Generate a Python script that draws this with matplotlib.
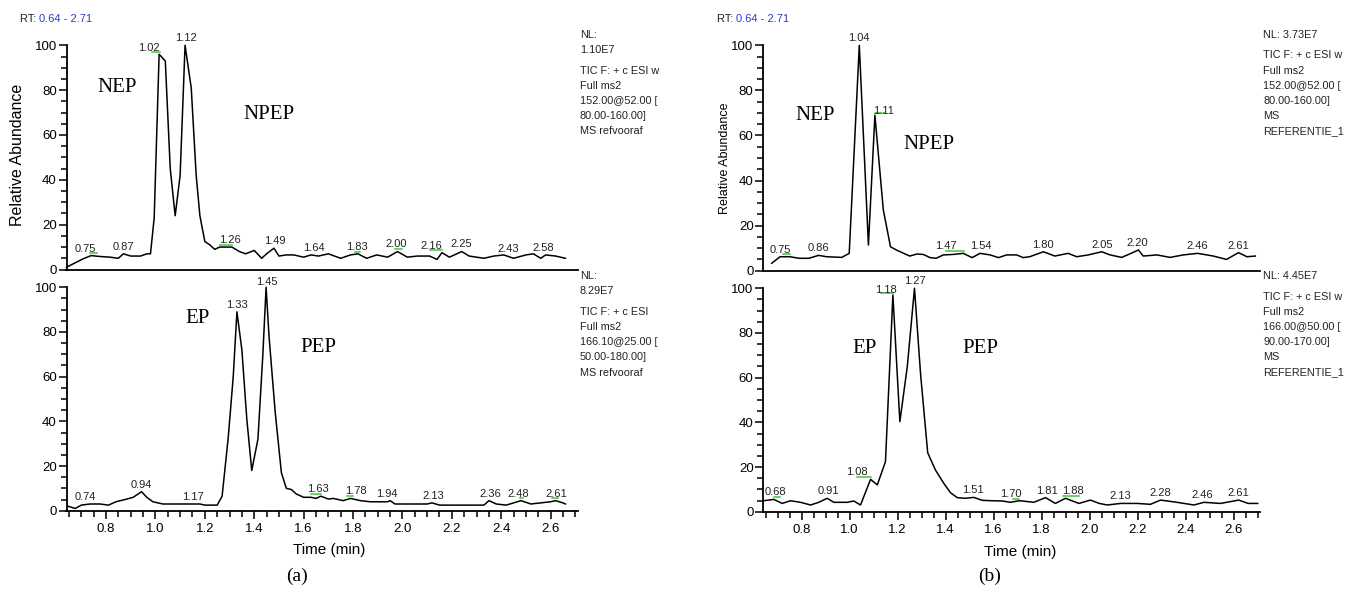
import numpy as np
import matplotlib.pyplot as plt
from matplotlib.ticker import MultipleLocator

plt.rcParams['font.family'] = ['Liberation Sans', 'DejaVu Sans']

# ---- (a) top trace: m/z 152 (NEP / NPEP), refvooraf
a1_t = [0.64, 0.67, 0.71, 0.74, 0.776, 0.816, 0.85, 0.87, 0.90, 0.94, 0.965, 0.98, 0.995,
        1.015, 1.04, 1.06, 1.08, 1.10, 1.12, 1.145, 1.165, 1.18, 1.20, 1.22, 1.24, 1.26,
        1.31, 1.34, 1.365, 1.40, 1.43, 1.45, 1.48, 1.50, 1.53, 1.56, 1.60, 1.63, 1.66,
        1.70, 1.75, 1.79, 1.82, 1.855, 1.896, 1.94, 1.98, 2.02, 2.06, 2.11, 2.14, 2.16,
        2.19, 2.24, 2.27, 2.33, 2.37, 2.41, 2.45, 2.50, 2.53, 2.56, 2.58, 2.62, 2.66]
a1_v = [1, 2.7, 4.9, 6.2, 5.8, 5.5, 5, 7, 6, 6, 7, 7, 23,
        96, 93, 45, 24, 42, 100, 81, 42, 24, 12.5, 11, 9, 10,
        10, 8, 7, 8.5, 5, 7, 9.5, 6, 6.5, 6.5, 5.5, 6.5, 6,
        7, 5, 6.5, 7, 5, 6.5, 5.5, 8, 5.5, 6, 6, 4.5, 7.5,
        5.5, 8, 6, 5, 6, 6.5, 5, 6.5, 7, 5, 6.5, 6, 5]
a1_labels = [0.75, 0.87, 1.02, 1.12, 1.26, 1.49, 1.64, 1.83, 2.00, 2.16, 2.25, 2.43, 2.58]
a1_label_x = [0.715, 0.87, 0.975, 1.124, 1.30, 1.485, 1.64, 1.816, 1.975, 2.115, 2.24, 2.43, 2.57]
a1_green = [(0.735, 0.765), (0.985, 1.02), (1.26, 1.31), (1.81, 1.83), (1.97, 2.00), (2.11, 2.16)]
a1_info = ["NL:", "1.10E7", "TIC F: + c ESI w", "Full ms2", "152.00@52.00 [", "80.00-160.00]", "MS refvooraf"]

# ---- (a) bottom trace: m/z 166 (EP / PEP), refvooraf
a2_t = [0.646, 0.675, 0.70, 0.735, 0.776, 0.81, 0.84, 0.877, 0.91, 0.944, 0.965, 0.99, 1.03,
        1.18, 1.20, 1.25, 1.27, 1.295, 1.315, 1.33, 1.35, 1.37, 1.39, 1.415, 1.435, 1.448,
        1.46, 1.485, 1.51, 1.53, 1.55, 1.57, 1.60, 1.63, 1.65, 1.67, 1.70, 1.72, 1.76,
        1.79, 1.83, 1.87, 1.94, 1.95, 1.97, 2.03, 2.10, 2.12, 2.15, 2.33, 2.35, 2.38,
        2.42, 2.45, 2.48, 2.52, 2.56, 2.60, 2.62, 2.65, 2.66]
a2_v = [2, 1, 2.5, 3, 3, 2.5, 4, 5, 6, 8.5, 6, 4, 3,
        3, 2.5, 2.5, 6.5, 33, 60, 89, 72, 41, 18, 32, 70, 100,
        78, 44, 17, 10, 9.5, 7.5, 6, 6, 5.5, 6.5, 5.2, 5.5, 4.5,
        5.5, 4.5, 4, 4, 4.5, 3, 3, 3, 3.5, 2.5, 2.5, 4.5, 3,
        2.5, 3.5, 4.5, 3, 3.5, 4, 4.5, 3.5, 3]
a2_labels = [0.74, 0.94, 1.17, 1.33, 1.45, 1.63, 1.78, 1.94, 2.13, 2.36, 2.48, 2.61]
a2_label_x = [0.715, 0.944, 1.152, 1.33, 1.45, 1.66, 1.81, 1.936, 2.124, 2.355, 2.47, 2.625]
a2_green = [(1.63, 1.67), (1.775, 1.80), (2.475, 2.49), (2.605, 2.63)]
a2_info = ["NL:", "8.29E7", "TIC F: + c ESI", "Full ms2", "166.10@25.00 [", "50.00-180.00]", "MS refvooraf"]

# ---- (b) top trace: m/z 152 (NEP / NPEP), REFERENTIE_1
b1_t = [0.675, 0.71, 0.75, 0.79, 0.83, 0.87, 0.904, 0.967, 0.998, 1.04, 1.078, 1.105, 1.14,
        1.17, 1.20, 1.25, 1.28, 1.307, 1.335, 1.36, 1.39, 1.43, 1.473, 1.51, 1.543, 1.585,
        1.62, 1.654, 1.696, 1.723, 1.75, 1.807, 1.855, 1.91, 1.946, 1.994, 2.05, 2.085,
        2.133, 2.168, 2.203, 2.223, 2.28, 2.335, 2.39, 2.45, 2.515, 2.57, 2.62, 2.655, 2.69]
b1_v = [3.3, 6.2, 6.2, 5.5, 5.5, 6.8, 6.2, 5.9, 7.7, 100, 11.4, 69, 27,
        10.6, 8.9, 6.5, 7.4, 7.2, 5.8, 5.5, 7, 7.2, 7.7, 5.8, 7.7, 7,
        5.8, 7, 7, 5.8, 6.2, 8.4, 6.5, 7.7, 6.2, 7, 8.4, 7,
        5.9, 7.5, 9.2, 6.5, 7, 5.9, 7, 7.7, 6.5, 5, 8, 6.2, 6.5]
b1_labels = [0.75, 0.86, 1.04, 1.11, 1.47, 1.54, 1.80, 2.05, 2.20, 2.46, 2.61]
b1_label_x = [0.71, 0.87, 1.04, 1.14, 1.40, 1.545, 1.806, 2.05, 2.20, 2.45, 2.62]
b1_green = [(0.72, 0.75), (1.105, 1.147), (1.40, 1.475)]
b1_info = ["NL: 3.73E7", "TIC F: + c ESI w", "Full ms2", "152.00@52.00 [", "80.00-160.00]", "MS", "REFERENTIE_1"]

# ---- (b) bottom trace: m/z 166 (EP / PEP), REFERENTIE_1
b2_t = [0.64, 0.684, 0.719, 0.753, 0.795, 0.837, 0.871, 0.906, 0.934, 0.99, 1.017, 1.045,
        1.087, 1.115, 1.149, 1.18, 1.209, 1.24, 1.27, 1.295, 1.325, 1.357, 1.392, 1.42,
        1.448, 1.482, 1.517, 1.552, 1.594, 1.635, 1.67, 1.705, 1.719, 1.767, 1.816, 1.857,
        1.899, 1.955, 2.003, 2.04, 2.073, 2.128, 2.198, 2.253, 2.295, 2.364, 2.434, 2.476,
        2.545, 2.621, 2.66, 2.70]
b2_v = [4.9, 5.5, 3.7, 4.9, 4.2, 3, 4.2, 6, 4.2, 4.2, 4.8, 3,
        14.5, 12, 22.4, 97, 40.3, 65, 100, 62, 26.4, 18.7, 12.7, 8.5,
        6.3, 6, 6.4, 5.1, 4.9, 4.8, 4.2, 4.9, 4.8, 4.2, 6.3, 3.7,
        6, 3.7, 5.2, 3.7, 3, 3.7, 3.7, 3.3, 5.2, 4.2, 3, 4.2,
        3.7, 5.2, 3.7, 3.7]
b2_labels = [0.68, 0.91, 1.08, 1.18, 1.27, 1.51, 1.70, 1.81, 1.88, 2.13, 2.28, 2.46, 2.61]
b2_label_x = [0.69, 0.91, 1.03, 1.15, 1.27, 1.515, 1.67, 1.82, 1.93, 2.128, 2.295, 2.47, 2.62]
b2_green = [(0.685, 0.71), (1.03, 1.09), (1.13, 1.18), (1.68, 1.705), (1.89, 1.955)]
b2_info = ["NL: 4.45E7", "TIC F: + c ESI w", "Full ms2", "166.00@50.00 [", "90.00-170.00]", "MS", "REFERENTIE_1"]

W, H = 1357, 594
fig = plt.figure(figsize=(W / 100, H / 100), dpi=100)


def rect(x0, x1, ytop, ybot):
    return [x0 / W, 1 - ybot / H, (x1 - x0) / W, (ybot - ytop) / H]


def local_max(t, v, lo, hi):
    xs = np.linspace(lo, hi, 25)
    return np.interp(xs, t, v).max()


def panel(r, t, v, labels, label_x, greens, bottom):
    ax = fig.add_axes(r)
    ax.plot(t, v, color='black', lw=1.1, clip_on=False)
    for lab, lx in zip(labels, label_x):
        y = local_max(t, v, min(lab, lx) - 0.01, max(lab, lx) + 0.01)
        ax.annotate(f"{lab:.2f}", (lx, y), xytext=(0, 1.5), textcoords='offset points',
                    ha='center', va='bottom', fontsize=8, color='#222222', annotation_clip=False)
    for g0, g1 in greens:
        y = local_max(t, v, g0, g1) + 1
        ax.plot([g0, g1], [y, y], color='#3cc83c', lw=1.1, clip_on=False)
    ax.set_xlim(0.64, 2.71)
    ax.set_ylim(0, 100)
    for s in ['top', 'right']:
        ax.spines[s].set_visible(False)
    for s in ['left', 'bottom']:
        ax.spines[s].set_linewidth(1.3)
    ax.yaxis.set_major_locator(MultipleLocator(20))
    ax.yaxis.set_minor_locator(MultipleLocator(5))
    ax.tick_params(axis='y', which='major', length=6, width=1.1, pad=1, labelsize=9.5)
    ax.tick_params(axis='y', which='minor', length=4, width=1.1)
    if bottom:
        ax.xaxis.set_major_locator(MultipleLocator(0.2))
        ax.xaxis.set_minor_locator(MultipleLocator(0.05))
        ax.tick_params(axis='x', which='major', length=6, width=1.1, pad=3, labelsize=9.5)
        ax.tick_params(axis='x', which='minor', length=4, width=1.1)
    else:
        ax.set_xticks([])
    return ax


def info(x, ytop, lines, n_first):
    y = ytop
    for i, s in enumerate(lines):
        fig.text(x / W, 1 - y / H, s, fontsize=7.8, va='center', ha='left', color='#222222')
        y += 20.5 if i == n_first - 1 else 15.2


serif = dict(fontsize=15, family='Liberation Serif', ha='center', va='center')

# (a)
a_top = panel(rect(66.5, 577.8, 45.3, 269.5), a1_t, a1_v, a1_labels, a1_label_x, a1_green, False)
a_bot = panel(rect(66.5, 577.8, 287.3, 510.7), a2_t, a2_v, a2_labels, a2_label_x, a2_green, True)
a_top.text(0.845, 81, "NEP", **serif)
a_top.text(1.46, 69, "NPEP", **serif)
a_bot.text(1.17, 86, "EP", **serif)
a_bot.text(1.66, 73, "PEP", **serif)
info(580, 35, a1_info, 2)
info(580, 276, a2_info, 2)
fig.text(18 / W, 1 - 155 / H, "Relative Abundance", rotation=90, fontsize=11.5, ha='center', va='center')
fig.text(329 / W, 1 - 550 / H, "Time (min)", fontsize=11, ha='center', va='center')
fig.text(297 / W, 1 - 576 / H, "(a)", fontsize=14, family='Liberation Serif', ha='center', va='center')

# (b)
b_top = panel(rect(763.3, 1260.1, 45.3, 270.7), b1_t, b1_v, b1_labels, b1_label_x, b1_green, False)
b_bot = panel(rect(763.3, 1260.1, 288.3, 511.7), b2_t, b2_v, b2_labels, b2_label_x, b2_green, True)
b_top.text(0.855, 69, "NEP", **serif)
b_top.text(1.33, 56, "NPEP", **serif)
b_bot.text(1.06, 73, "EP", **serif)
b_bot.text(1.545, 73, "PEP", **serif)
info(1263, 35, b1_info, 1)
info(1263, 276, b2_info, 1)
fig.text(725 / W, 1 - 158 / H, "Relative Abundance", rotation=90, fontsize=9, ha='center', va='center')
fig.text(1020 / W, 1 - 552 / H, "Time (min)", fontsize=11, ha='center', va='center')
fig.text(990 / W, 1 - 576 / H, "(b)", fontsize=14, family='Liberation Serif', ha='center', va='center')

# RT range headers
for x0 in (20, 717):
    t1 = fig.text(x0 / W, 1 - 19 / H, "RT: ", fontsize=8, color='#222222', va='center')
    fig.canvas.draw()
    bb = t1.get_window_extent()
    fig.text(bb.x1 / W, 1 - 19 / H, "0.64 - 2.71", fontsize=8, color='#2a3cc8', va='center')

fig.savefig('out.png', dpi=100)
